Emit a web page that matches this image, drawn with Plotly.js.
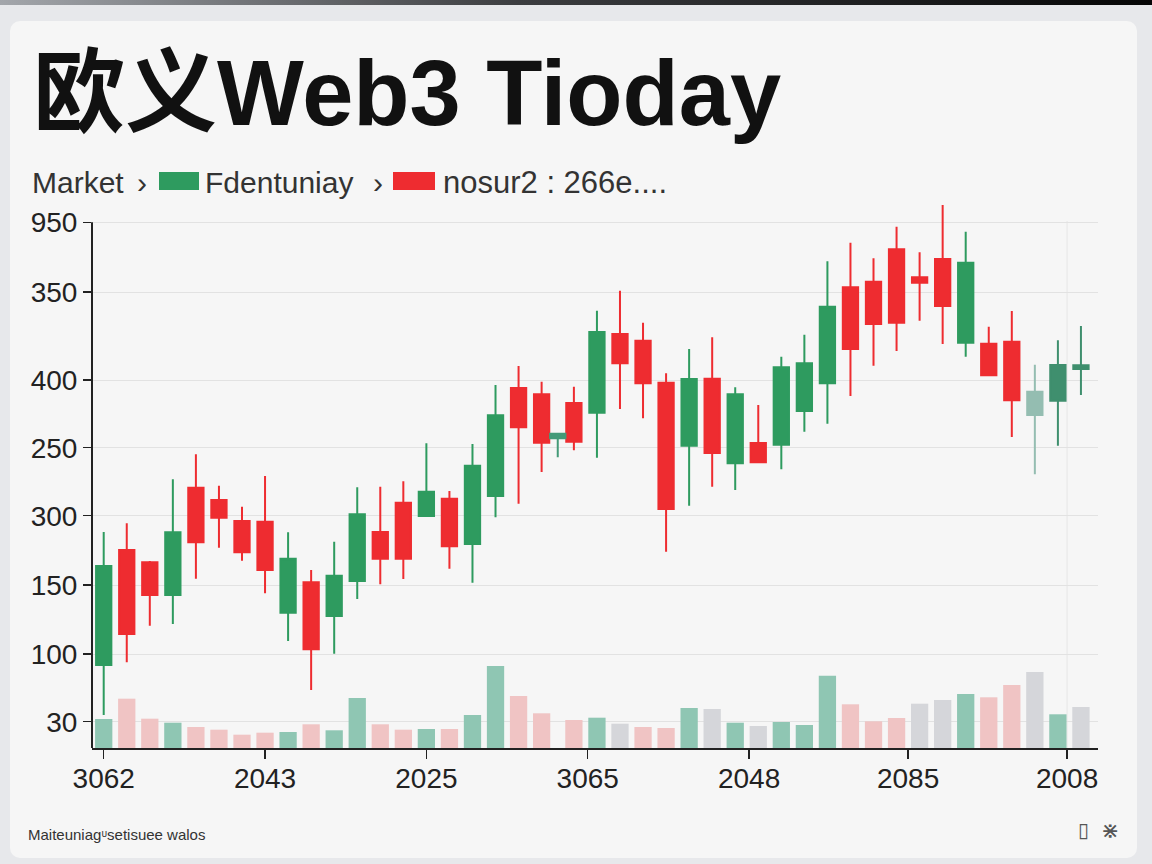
<!DOCTYPE html>
<html><head><meta charset="utf-8">
<script src="https://cdn.plot.ly/plotly-3.0.1.min.js"></script>
<style>
html,body{margin:0;padding:0;width:1152px;height:864px;overflow:hidden;background:#e7e8eb;}
#topbar{position:absolute;left:0;top:0;width:1152px;height:5px;background:linear-gradient(to right,#a3a6ab 0%,#3c3d40 45%,#060606 100%);}
#card{position:absolute;left:10px;top:21px;width:1127px;height:837px;background:#f6f6f6;border-radius:10px;}
#chart{position:absolute;left:0;top:0;width:1152px;height:864px;}
</style></head><body>
<div id="topbar"></div><div id="card"></div><div id="chart"></div>
<script>
// ---- data (price axis in chart units) ----
const candleX = [0,1,2,3,4,5,6,7,8,9,10,11,12,13,14,15,16,17,18,19,
  20.4,21.4,22.4,23.4,24.4,25.4,26.4,27.4,28.4,29.4,30.4,31.4,32.4,33.4,34.4,35.4,36.4,37.4,38.4,39.4,40.4,41.4,42.4];
const openP  = [83,198,185.7,153,260.3,248,227,226.3,135.3,165.7,132,167,216,245.3,232,249.3,204,252,360,353.7,
  345,335.3,414,407.3,365.3,302.3,369.3,284.7,305,303.3,337,364.7,460.7,466.3,498.7,470.7,489,405.3,404.3,406.3,333,347.3,379];
const highP  = [216,224.7,187,268.7,293.7,262.3,241.3,272,215.7,178,206.3,260.7,261.3,266.7,304.7,257,304,363,382,366.3,
  361.3,437.3,457.3,425.3,374.7,399,410.7,360.7,343,391.3,413.3,486.7,505.3,489.7,521.3,495.7,543,516.3,421.3,437,383.3,407.7,422];
const lowP   = [33,85.7,122.3,124,169.3,200.3,187.3,154.7,107,58,94.3,149,163.7,169,231,179.3,165.3,230.7,244.3,276,
  297.7,290.3,339,329.7,196.3,242.3,261.3,258,285.7,278.7,316.3,324.3,352,382.3,397,427.3,404,391.3,372.7,311,273.7,302.3,353];
const closeP = [182,114,153,215.7,205.7,230.3,195.7,178,189.3,98.7,172.3,233.7,189.3,189.3,256.3,201.7,282.3,332.7,320.7,305.3,
  306.3,416,384.7,364.7,239,369,295,353.7,285.7,380.7,384.7,441.3,399,424,425.3,465.3,442,485.3,372.7,347.7,356.3,383,382.7];
// small doji between candle 19 and 20
const dojiX = [19.7];
const dojiOpen = [309.7], dojiHigh = [314.3], dojiLow = [290.7], dojiClose = [314.3];

const volume = [29,49.3,29.3,25.3,21,18.3,13.3,15.3,16,23.7,17.7,50,23.7,18.3,19,19,33,82,52,34.7,
  28,30.3,24.3,21,20,40,39,25.3,22,26,23,72.3,43.7,26.7,30,44.3,48,54,50.7,63,76,33.7,41];
const volumeTone = ['up','down','down','up','down','down','down','down','up','down','up','up','down','down','up','down','up','up','down','down',
  'down','up','flat','down','down','up','flat','up','flat','up','up','up','down','down','down','flat','flat','up','down','down','flat','up','flat'];

const yTickVals = [26.3,94,163,232.3,300.3,368,456,525.7];
const yTickText = ['30','100','150','300','250','400','350','950'];
const xTickVals = [0,7,14,21,28,34.9,41.8];
const xTickText = ['3062','2043','2025','3065','2048','2085','2008'];

const titleText = '欧义Web3 Tioday';
const legendLabels = ['Market', 'Fdentuniay', 'nosur2 : 266e....'];
const footerText = 'Maiteuniagᶸsetisuee walos';

// ---- styling ----
const GREEN = '#2e9b5f', RED = '#ee2c30';
const toneColor = {up:'#8fc6b3', down:'#f0c4c4', flat:'#d5d6da'};
const FONT = 'Liberation Sans, Arial, Noto Sans CJK SC, sans-serif';

const L = 92, R = 1098, T = 200, B = 748;
const px2x = p => (p - L) / (R - L);
const py2y = p => (B - p) / (B - T);

function candle(from, to, inc, dec, xaxis) {
  return {
    type:'candlestick', xaxis: xaxis || 'x', yaxis:'y',
    x: candleX.slice(from,to), open: openP.slice(from,to), high: highP.slice(from,to),
    low: lowP.slice(from,to), close: closeP.slice(from,to),
    increasing:{line:{color:inc,width:2}, fillcolor:inc},
    decreasing:{line:{color:dec,width:2}, fillcolor:dec},
    whiskerwidth:0, hoverinfo:'skip', showlegend:false
  };
}

const traces = [
  candle(0, 40, GREEN, RED),
  candle(40, 41, '#94bdb1', '#94bdb1'),
  candle(41, 43, '#3f8f6e', '#3f8f6e'),
  {
    type:'candlestick', xaxis:'x2', yaxis:'y',
    x: dojiX, open: dojiOpen, high: dojiHigh, low: dojiLow, close: dojiClose,
    increasing:{line:{color:'#449a78',width:2}, fillcolor:'#449a78'},
    decreasing:{line:{color:'#449a78',width:2}, fillcolor:'#449a78'},
    whiskerwidth:0, hoverinfo:'skip', showlegend:false
  },
  {
    type:'bar', xaxis:'x', yaxis:'y2', x: candleX, y: volume, width:0.75,
    marker:{color: volumeTone.map(t => toneColor[t]), line:{width:0}},
    hoverinfo:'skip', showlegend:false
  }
];

const tickFont = {family: FONT, size: 28, color:'#222'};
const textFont = {family: FONT, size: 30, color:'#333'};

const layout = {
  width:1152, height:864,
  margin:{l:L, r:1152-R, t:T, b:864-B, pad:0},
  paper_bgcolor:'rgba(0,0,0,0)', plot_bgcolor:'rgba(0,0,0,0)',
  showlegend:false,
  boxgap:0.336, boxgroupgap:0,
  title:{text:titleText, font:{family:FONT, size:92, color:'#111', weight:'bold'},
    xref:'container', yref:'container', x:33/1152, xanchor:'left', y:1-92.5/864, yanchor:'middle'},
  xaxis:{range:[-0.508,43.14], tickmode:'array', tickvals:xTickVals, ticktext:xTickText,
    showgrid:false, zeroline:false, showline:true, linecolor:'#222', linewidth:2,
    ticks:'outside', ticklen:9, tickwidth:1.5, tickcolor:'#222', tickfont:tickFont, ticklabelstandoff:-5,
    rangeslider:{visible:false}, fixedrange:true},
  xaxis2:{overlaying:'x', range:[-0.508,43.14], visible:false, rangeslider:{visible:false}},
  yaxis:{range:[0,548], tickmode:'array', tickvals:yTickVals, ticktext:yTickText,
    showgrid:true, gridcolor:'#e2e2e2', gridwidth:1, zeroline:false, showline:false,
    ticks:'outside', ticklen:8, tickwidth:1.5, tickcolor:'#222', tickfont:tickFont, ticklabelstandoff:0},
  yaxis2:{overlaying:'y', range:[0,548], visible:false},
  shapes:[
    {type:'line', xref:'paper', x0:0, x1:0, yref:'y', y0:0, y1:yTickVals[yTickVals.length-1],
     line:{color:'#222', width:2}},
    {type:'line', xref:'x', x0:xTickVals[xTickVals.length-1], x1:xTickVals[xTickVals.length-1], yref:'y', y0:0, y1:527,
     line:{color:'#e6e6e6', width:1}, layer:'below'},
    {type:'rect', xref:'paper', yref:'paper', x0:px2x(159), x1:px2x(199), y0:py2y(190), y1:py2y(172),
     fillcolor:'#2e9b5f', line:{width:0}},
    {type:'rect', xref:'paper', yref:'paper', x0:px2x(393), x1:px2x(435), y0:py2y(190), y1:py2y(172),
     fillcolor:'#ee2c30', line:{width:0}}
  ],
  annotations:[
    {text:legendLabels[0], xref:'paper', yref:'paper', x:px2x(30), y:py2y(182), xanchor:'left', yanchor:'middle', showarrow:false, font:textFont},
    {text:'›', xref:'paper', yref:'paper', x:px2x(135), y:py2y(182), xanchor:'left', yanchor:'middle', showarrow:false, font:textFont},
    {text:legendLabels[1], xref:'paper', yref:'paper', x:px2x(203), y:py2y(182), xanchor:'left', yanchor:'middle', showarrow:false, font:textFont},
    {text:'›', xref:'paper', yref:'paper', x:px2x(371), y:py2y(182), xanchor:'left', yanchor:'middle', showarrow:false, font:textFont},
    {text:legendLabels[2], xref:'paper', yref:'paper', x:px2x(441), y:py2y(182), xanchor:'left', yanchor:'middle', showarrow:false,
     font:{family:FONT, size:31, color:'#333'}},
    {text:footerText, xref:'paper', yref:'paper', x:px2x(26), y:py2y(834), xanchor:'left', yanchor:'middle', showarrow:false,
     font:{family:FONT, size:15, color:'#333'}},
    {text:'▯', xref:'paper', yref:'paper', x:px2x(1083), y:py2y(830), xanchor:'center', yanchor:'middle', showarrow:false,
     font:{family:'DejaVu Sans', size:20, color:'#555'}},
    {text:'⋇', xref:'paper', yref:'paper', x:px2x(1110), y:py2y(830), xanchor:'center', yanchor:'middle', showarrow:false,
     font:{family:'DejaVu Sans', size:22, color:'#555'}}
  ]
};

Plotly.newPlot('chart', traces, layout, {staticPlot:true, displayModeBar:false});
</script>
</body></html>
